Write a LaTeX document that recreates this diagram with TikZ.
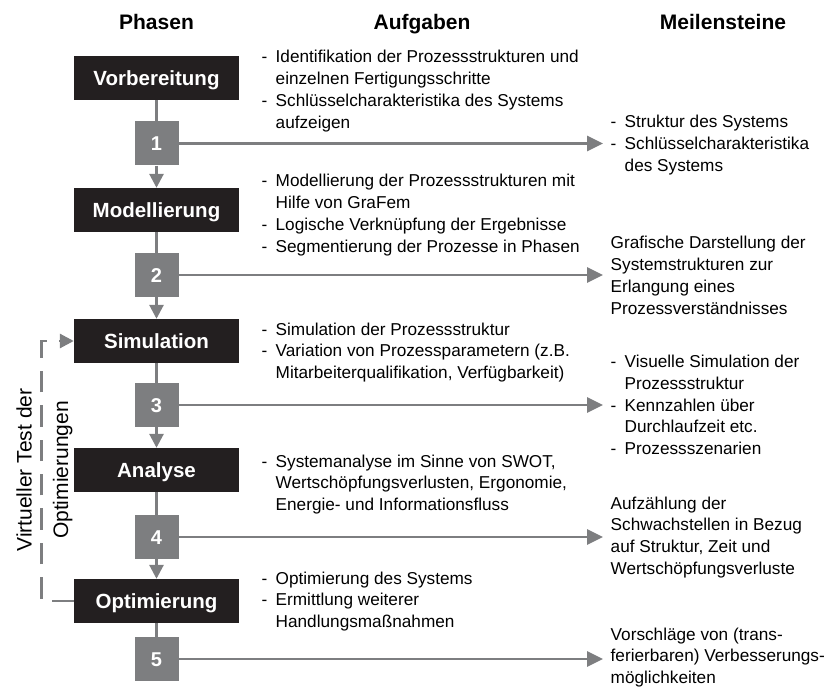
\documentclass[tikz,border=0pt]{standalone}
\usepackage{fontspec}
\setmainfont{Liberation Sans}
\usetikzlibrary{arrows.meta}
\definecolor{boxblack}{RGB}{35,31,32}
\definecolor{markgray}{RGB}{125,126,128}
\newcommand{\itemdash}{\makebox[14pt][l]{-}}
\newcommand{\itemgap}{\hspace*{14pt}}
\begin{document}
\begin{tikzpicture}[x=1pt,y=-1pt,
                phase/.style={fill=boxblack,text=white,minimum width=165pt,minimum height=44pt,inner sep=0pt,
                    font=\fontsize{20.5}{24}\selectfont\bfseries,text height=14.7pt,text depth=0pt},
                numbox/.style={fill=markgray,text=white,minimum width=44pt,minimum height=44pt,inner sep=0pt,
                    font=\fontsize{20}{24}\selectfont\bfseries,text height=14.3pt,text depth=0pt},
                head/.style={anchor=base,inner sep=0pt,font=\fontsize{21}{25}\selectfont\bfseries},
                task/.style={anchor=base west,inner sep=0pt,font=\fontsize{17.2}{21.8}\selectfont},
                side/.style={rotate=90,anchor=base,inner sep=0pt,font=\fontsize{21}{25}\selectfont},
                link/.style={draw=markgray,line width=2.8pt},
                flow/.style={link,-{Triangle[length=14pt,width=14pt]}},
                goal/.style={link,-{Triangle[length=16pt,width=15pt]}}]
                \useasboundingbox (0,0) rectangle (828,687);
                \node[head] (hph) at (156.5,30) {Phasen};
                \node[head] (hau) at (422,30) {Aufgaben};
                \node[head] (hme) at (723,30) {Meilensteine};
                \node[phase] (vor) at (156.5,78) {Vorbereitung};
                \node[phase] (mod) at (156.5,210) {Modellierung};
                \node[phase] (sim) at (156.5,341) {Simulation};
                \node[phase] (ana) at (156.5,470) {Analyse};
                \node[phase] (opt) at (156.5,601) {Optimierung};
                \node[numbox] (m1) at (156.5,143.5) {1};
                \node[numbox] (m2) at (156.5,275) {2};
                \node[numbox] (m3) at (156.5,405) {3};
                \node[numbox] (m4) at (156.5,537) {4};
                \node[numbox] (m5) at (156.5,659) {5};
                \coordinate (tipx) at (603,0);
                \draw[link] (vor) -- (m1);
                \draw[flow] (m1) -- (mod);
                \draw[link] (mod) -- (m2);
                \draw[flow] (m2) -- (sim);
                \draw[link] (sim) -- (m3);
                \draw[flow] (m3) -- (ana);
                \draw[link] (ana) -- (m4);
                \draw[flow] (m4) -- (opt);
                \draw[link] (opt) -- (m5);
                \draw[goal] (m1.east) -- (m1.east -| tipx);
                \draw[goal] (m2.east) -- (m2.east -| tipx);
                \draw[goal] (m3.east) -- (m3.east -| tipx);
                \draw[goal] (m4.east) -- (m4.east -| tipx);
                \draw[goal] (m5.east) -- (m5.east -| tipx);
                \draw[flow,dash pattern=on 21.5pt off 12.9pt] (opt.west) -- ++(-32,0) |- (sim.west);
                \node[side] (vt1) at (31.5,470) {Virtueller Test der};
                \node[side] (vt2) at (68,470) {Optimierungen};
                \node[task] (a1) at (261.5,63) {\begin{tabular}[t]{@{}l@{}}
                    \itemdash Identifikation der Prozessstrukturen und\\
                    \itemgap einzelnen Fertigungsschritte\\
                    \itemdash Schlüsselcharakteristika des Systems\\
                    \itemgap aufzeigen\end{tabular}};
                \node[task] (a2) at (261.5,187) {\begin{tabular}[t]{@{}l@{}}
                    \itemdash Modellierung der Prozessstrukturen mit\\
                    \itemgap Hilfe von GraFem\\
                    \itemdash Logische Verknüpfung der Ergebnisse\\
                    \itemdash Segmentierung der Prozesse in Phasen\end{tabular}};
                \node[task] (a3) at (261.5,335) {\begin{tabular}[t]{@{}l@{}}
                    \itemdash Simulation der Prozessstruktur\\
                    \itemdash Variation von Prozessparametern (z.B.\\
                    \itemgap Mitarbeiterqualifikation, Verfügbarkeit)\end{tabular}};
                \node[task] (a4) at (261.5,467) {\begin{tabular}[t]{@{}l@{}}
                    \itemdash Systemanalyse im Sinne von SWOT,\\
                    \itemgap Wertschöpfungsverlusten, Ergonomie,\\
                    \itemgap Energie- und Informationsfluss\end{tabular}};
                \node[task] (a5) at (261.5,584) {\begin{tabular}[t]{@{}l@{}}
                    \itemdash Optimierung des Systems\\
                    \itemdash Ermittlung weiterer\\
                    \itemgap Handlungsmaßnahmen\end{tabular}};
                \node[task] (z1) at (610.5,128) {\begin{tabular}[t]{@{}l@{}}
                    \itemdash Struktur des Systems\\
                    \itemdash Schlüsselcharakteristika\\
                    \itemgap des Systems\end{tabular}};
                \node[task] (z2) at (610.5,249) {\begin{tabular}[t]{@{}l@{}}
                    Grafische Darstellung der\\
                    Systemstrukturen zur\\
                    Erlangung eines\\
                    Prozessverständnisses\end{tabular}};
                \node[task] (z3) at (610.5,367.5) {\begin{tabular}[t]{@{}l@{}}
                    \itemdash Visuelle Simulation der\\
                    \itemgap Prozessstruktur\\
                    \itemdash Kennzahlen über\\
                    \itemgap Durchlaufzeit etc.\\
                    \itemdash Prozessszenarien\end{tabular}};
                \node[task] (z4) at (610.5,509) {\begin{tabular}[t]{@{}l@{}}
                    Aufzählung der\\
                    Schwachstellen in Bezug\\
                    auf Struktur, Zeit und\\
                    Wertschöpfungsverluste\end{tabular}};
                \node[task,font=\fontsize{17.2}{21.3}\selectfont] (z5) at (610.5,640.5) {\begin{tabular}[t]{@{}l@{}}
                    Vorschläge von (trans-\\
                    ferierbaren) Verbesserungs-\\
                    möglichkeiten\end{tabular}};
\end{tikzpicture}
\end{document}
